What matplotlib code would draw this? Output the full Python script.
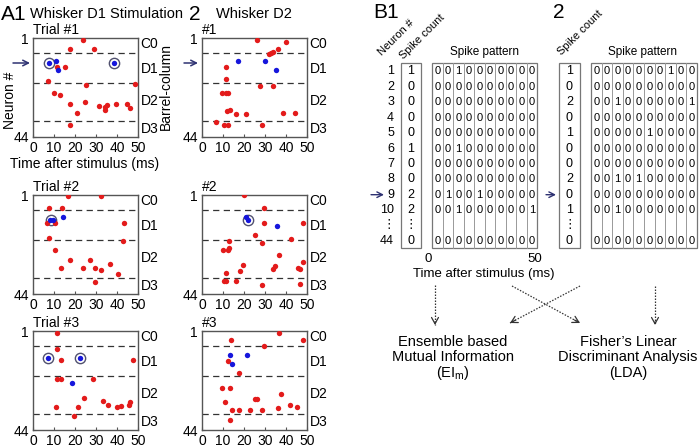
import matplotlib
matplotlib.use('Agg')
import matplotlib.pyplot as plt

plt.rcParams['font.family'] = ['Liberation Sans', 'DejaVu Sans']
plt.rcParams['mathtext.fontset'] = 'custom'
plt.rcParams['mathtext.rm'] = 'Liberation Sans'
plt.rcParams['mathtext.it'] = 'Liberation Sans'

W, H = 699, 448

# ---------------- data: raster panels (time in ms, neuron index) ----------------
t1_red_t = [23.8, 17.7, 29.2, 11.5, 15.3, 7.2, 25.2, 48.4, 10.1, 12.8, 17.7, 24.9, 31.5, 34.3, 34.3, 35.1, 39.5, 44.9, 46.2, 21.1, 17.6]
t1_red_n = [1.7, 5.7, 5.7, 13.4, 13.4, 19.8, 21.3, 21.1, 25.0, 25.8, 29.7, 29.0, 30.4, 30.9, 32.4, 30.2, 29.7, 29.7, 31.2, 33.5, 38.9]
t1_blue_t = [7.5, 11.0, 12.0, 38.5]
t1_blue_n = [11.9, 10.9, 14.8, 11.9]
t1_circ_t = [7.5, 38.5]
t1_circ_n = [11.9, 11.9]

t2_red_t = [16.8, 32.4, 7.7, 13.6, 6.7, 10.5, 43.3, 7.5, 43.0, 10.7, 17.4, 27.3, 36.9, 13.3, 23.8, 29.6, 32.4, 40.7, 29.6]
t2_red_n = [1.4, 1.4, 6.8, 6.8, 13.2, 13.2, 13.2, 19.7, 21.1, 24.9, 29.4, 29.4, 30.9, 32.6, 32.6, 32.6, 33.4, 35.5, 38.7]
t2_blue_t = [14.1, 8.0, 9.3]
t2_blue_n = [10.6, 11.8, 11.8]
t2_circ_t = [8.7]
t2_circ_n = [11.8]

t3_red_t = [11.2, 11.2, 13.3, 47.6, 11.2, 13.3, 28.8, 24.3, 33.5, 35.6, 10.9, 21.4, 39.8, 42.0, 46.0, 45.8, 19.5]
t3_red_n = [2.0, 8.7, 13.8, 13.8, 21.7, 21.7, 21.7, 30.2, 31.5, 33.0, 34.1, 34.1, 34.1, 33.6, 31.7, 33.0, 37.9]
t3_blue_t = [7.2, 22.4, 18.5]
t3_blue_n = [12.6, 12.6, 23.8]
t3_circ_t = [7.2, 22.4]
t3_circ_n = [12.6, 12.6]

d1_red_t = [26.3, 39.8, 32.0, 33.0, 34.0, 36.1, 11.5, 11.2, 27.6, 33.7, 9.3, 11.4, 12.2, 11.7, 13.3, 16.1, 21.0, 38.8, 44.2, 6.8, 10.5, 12.2, 28.8]
d1_red_n = [1.7, 2.9, 8.1, 7.5, 7.0, 5.7, 13.4, 18.6, 21.8, 21.8, 25.0, 25.0, 25.0, 32.6, 32.4, 34.2, 34.2, 33.5, 33.5, 37.4, 38.7, 38.7, 38.8]
d1_blue_t = [17.1, 29.8, 35.0]
d1_blue_n = [10.9, 10.9, 14.8]
d1_circ_t = []
d1_circ_n = []

d2_red_t = [20.1, 29.3, 29.3, 25.4, 28.6, 13.0, 9.8, 12.5, 12.8, 36.7, 19.3, 34.9, 33.7, 18.0, 11.4, 10.5, 11.4, 16.2, 28.4, 48.3, 42.6, 48.3, 45.9, 46.8, 46.6]
d2_red_n = [1.2, 6.6, 13.1, 18.3, 21.7, 21.0, 24.8, 24.8, 24.0, 27.0, 31.3, 32.0, 33.1, 34.1, 34.7, 38.5, 38.5, 38.5, 40.0, 13.2, 20.0, 30.0, 32.9, 33.2, 39.8]
d2_blue_t = [20.8, 21.8, 35.9]
d2_blue_n = [10.6, 11.7, 14.5]
d2_circ_t = [21.8]
d2_circ_n = [11.7]

d3_red_t = [36.9, 13.8, 29.3, 12.2, 17.7, 9.6, 13.3, 11.0, 25.2, 26.0, 14.1, 17.4, 22.7, 28.6, 36.1, 37.4, 13.3, 48.3, 42.0, 45.0]
d3_red_n = [2.0, 4.8, 7.6, 14.1, 19.4, 25.9, 25.9, 31.7, 30.6, 30.6, 35.1, 35.1, 35.1, 35.1, 34.4, 28.5, 39.8, 4.8, 33.0, 34.0]
d3_blue_t = [13.3, 21.5, 14.4]
d3_blue_n = [11.4, 11.4, 15.4]
d3_circ_t = []
d3_circ_n = []

barrel_bounds = [7.5, 20.5, 37.0]
barrel_labels = ['C0', 'D1', 'D2', 'D3']
barrel_label_n = [3.5, 14.5, 28.5, 40.5]
x_ticks = [0, 10, 20, 30, 40, 50]
y_ticks = [1, 44]

# ---------------- data: spike tables ----------------
neuron_labels = ['1', '2', '3', '4', '5', '6', '7', '8', '9', '10', '44']
b1_counts = [1, 0, 0, 0, 0, 1, 0, 0, 2, 2, 0]
b1_patterns = ['0010000000', '0000000000', '0000000000', '0000000000', '0000000000',
               '0010000000', '0000000000', '0000000000', '0100100000', '0010000001',
               '0000000000']
b2_counts = [1, 0, 2, 0, 1, 0, 0, 2, 0, 1, 0]
b2_patterns = ['0000000100', '0000000000', '0010000001', '0000000000', '0000010000',
               '0000000000', '0000000000', '0010100000', '0000000000', '0010000000',
               '0000000000']

RED = '#e31b1b'
BLUE = '#1616dc'
NAVY = '#2e3272'

fig = plt.figure(figsize=(W / 100, H / 100), dpi=100)


def fig_axes(x0, y0, x1, y1):
    return fig.add_axes([x0 / W, 1 - y1 / H, (x1 - x0) / W, (y1 - y0) / H])


def raster(ax, rt, rn, bt, bn, ct, cn, title):
    ax.set_xlim(0, 50)
    ax.set_ylim(44, 1)
    for b in barrel_bounds:
        ax.plot([0, 50], [b, b], ls=(0, (5, 3.5)), color='#333333', lw=0.9, zorder=1)
    if ct:
        ax.scatter(ct, cn, s=55, facecolor='white', edgecolor='#50506e', lw=1.0, zorder=3)
    ax.scatter(rt, rn, s=15, color=RED, lw=0, zorder=4)
    ax.scatter(bt, bn, s=15, color=BLUE, lw=0, zorder=4)
    ax.set_xticks(x_ticks)
    ax.set_yticks(y_ticks)
    ax.tick_params(direction='in', length=2.5, labelsize=10, pad=3, color='#555555')
    for s in ax.spines.values():
        s.set_color('#555555')
        s.set_linewidth(1.0)
    for lab, y in zip(barrel_labels, barrel_label_n):
        ax.text(51.2, y, lab, va='center', ha='left', fontsize=10)
    ax.text(0, 1.015, title, transform=ax.transAxes, ha='left', va='bottom', fontsize=10)


cols = [(33, 138), (202, 307)]
rows = [(38, 137), (195, 294), (331, 430)]
panels = [
    [(t1_red_t, t1_red_n, t1_blue_t, t1_blue_n, t1_circ_t, t1_circ_n, 'Trial #1'),
     (d1_red_t, d1_red_n, d1_blue_t, d1_blue_n, d1_circ_t, d1_circ_n, '#1')],
    [(t2_red_t, t2_red_n, t2_blue_t, t2_blue_n, t2_circ_t, t2_circ_n, 'Trial #2'),
     (d2_red_t, d2_red_n, d2_blue_t, d2_blue_n, d2_circ_t, d2_circ_n, '#2')],
    [(t3_red_t, t3_red_n, t3_blue_t, t3_blue_n, t3_circ_t, t3_circ_n, 'Trial #3'),
     (d3_red_t, d3_red_n, d3_blue_t, d3_blue_n, d3_circ_t, d3_circ_n, '#3')],
]
for ri, (y0, y1) in enumerate(rows):
    for ci, (x0, x1) in enumerate(cols):
        ax = fig_axes(x0, y0, x1, y1)
        raster(ax, *panels[ri][ci])

# ---------------- overlay in pixel coordinates ----------------
ov = fig.add_axes([0, 0, 1, 1], zorder=-1)
ov.set_xlim(0, W)
ov.set_ylim(H, 0)
ov.axis('off')

# headings
ov.text(1, 14, 'A1', fontsize=15, va='center', ha='left')
ov.text(30, 14, 'Whisker D1 Stimulation', fontsize=10.5, va='center', ha='left')
ov.text(189, 14, '2', fontsize=15, va='center', ha='left')
ov.text(216, 14, 'Whisker D2', fontsize=10.5, va='center', ha='left')
ov.text(373, 12, 'B1', fontsize=15, va='center', ha='left')
ov.text(553, 12, '2', fontsize=15, va='center', ha='left')

ov.text(10, 100, 'Neuron #', rotation=90, fontsize=10, va='center', ha='center')
ov.text(166, 86, 'Barrel-column', rotation=90, fontsize=10, va='center', ha='center')
ov.text(85, 164, 'Time after stimulus (ms)', fontsize=10, va='center', ha='center')

# neuron pointer arrows
for xa, xb in [(13, 30), (184, 198)]:
    ov.annotate('', xy=(xb, 63), xytext=(xa, 63),
                arrowprops=dict(arrowstyle='->', color=NAVY, lw=1.1, shrinkA=0, shrinkB=0))

# tables
row_y = [71.5 + 15.4 * i for i in range(10)] + [240.5]
dots_y = 225
box_top, box_bot = 63, 248


def table(count_x0, count_x1, pat_x0, pat_x1, counts, patterns):
    ov.add_patch(plt.Rectangle((count_x0, box_top), count_x1 - count_x0, box_bot - box_top,
                               fill=False, ec='#777777', lw=0.9))
    ov.add_patch(plt.Rectangle((pat_x0, box_top), pat_x1 - pat_x0, box_bot - box_top,
                               fill=False, ec='#777777', lw=0.9))
    ncell = len(patterns[0])
    cw = (pat_x1 - pat_x0) / ncell
    for j in range(1, ncell):
        ov.plot([pat_x0 + j * cw] * 2, [box_top, box_bot], color='#999999', lw=0.7)
    cx = (count_x0 + count_x1) / 2
    for y, c, p in zip(row_y, counts, patterns):
        ov.text(cx, y, str(c), fontsize=9, ha='center', va='center')
        for j, ch in enumerate(p):
            ov.text(pat_x0 + (j + 0.5) * cw, y, ch, fontsize=8, ha='center', va='center')
    ov.text(cx, dots_y, '⋮', fontsize=9, ha='center', va='center')
    return cx


table(401, 421, 432, 537, b1_counts, b1_patterns)
table(559, 580, 591, 697, b2_counts, b2_patterns)

for y, lab in zip(row_y, neuron_labels):
    ov.text(394, y, lab, fontsize=9, ha='right', va='center')
ov.text(389, dots_y, '⋮', fontsize=9, ha='center', va='center')
ov.annotate('', xy=(384, row_y[8]), xytext=(371, row_y[8]),
            arrowprops=dict(arrowstyle='->', color=NAVY, lw=1.0, shrinkA=0, shrinkB=0))
ov.annotate('', xy=(556, row_y[8]), xytext=(546, row_y[8]),
            arrowprops=dict(arrowstyle='->', color=NAVY, lw=1.0, shrinkA=0, shrinkB=0))

ov.text(383, 57, 'Neuron #', rotation=45, rotation_mode='anchor', fontsize=8, ha='left', va='bottom')
ov.text(405, 61, 'Spike count', rotation=45, rotation_mode='anchor', fontsize=8, ha='left', va='bottom')
ov.text(563, 57, 'Spike count', rotation=45, rotation_mode='anchor', fontsize=8, ha='left', va='bottom')
ov.text(485, 52, 'Spike pattern', fontsize=8.5, ha='center', va='center')
ov.text(643, 52, 'Spike pattern', fontsize=8.5, ha='center', va='center')

ov.text(428, 259, '0', fontsize=9.5, ha='center', va='center')
ov.text(535, 259, '50', fontsize=9.5, ha='center', va='center')
ov.text(484, 274, 'Time after stimulus (ms)', fontsize=9.5, ha='center', va='center')

# dotted flow arrows
flows = [((435, 285), (435, 325)), ((512, 286), (580, 323)),
         ((580, 286), (510, 323)), ((655, 286), (655, 325))]
for (xa, ya), (xb, yb) in flows:
    ov.plot([xa, xb], [ya, yb], ls=(0, (1.2, 1.2)), color='#333333', lw=0.9)
    fx = xb - (xb - xa) * 0.08
    fy = yb - (yb - ya) * 0.08
    ov.annotate('', xy=(xb, yb), xytext=(fx, fy),
                arrowprops=dict(arrowstyle='->,head_length=0.45,head_width=0.25',
                                color='#333333', lw=0.9, shrinkA=0, shrinkB=0))

ov.text(453, 342, 'Ensemble based', fontsize=10.5, ha='center', va='center')
ov.text(453, 357, 'Mutual Information', fontsize=10.5, ha='center', va='center')
ov.text(453, 373, r'(EI$_{\rm m}$)', fontsize=10.5, ha='center', va='center')
ov.text(628, 342, 'Fisher\u2019s Linear', fontsize=10.5, ha='center', va='center')
ov.text(628, 357, 'Discriminant Analysis', fontsize=10.5, ha='center', va='center')
ov.text(628, 373, '(LDA)', fontsize=10.5, ha='center', va='center')

fig.savefig('out.png', dpi=100)
